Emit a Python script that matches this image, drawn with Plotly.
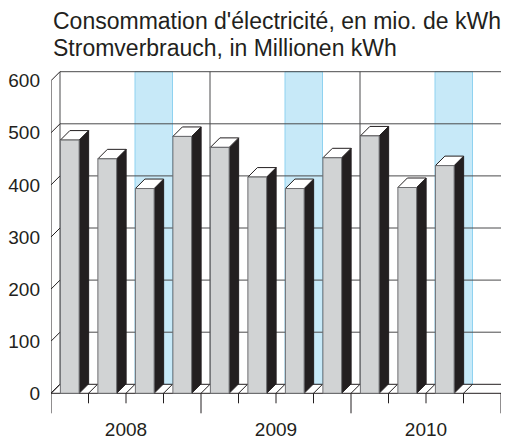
import plotly.graph_objects as go

# ---------------- data ----------------
TITLE_FR = "Consommation d'électricité, en mio. de kWh"
TITLE_DE = "Stromverbrauch, in Millionen kWh"
YEARS = ["2008", "2009", "2010"]
QUARTERS_PER_YEAR = 4
CONSUMPTION = [486, 450, 393, 493, 472, 415, 393, 452, 494, 395, 437]
HIGHLIGHT_QUARTER = 3          # shaded third quarter in each year
Y_TICKS = [0, 100, 200, 300, 400, 500, 600]

# ---------------- style / geometry (page pixels) ----------------
PAGE_OFFSET = 8           # default body margin of the html page
PAGE_W, PAGE_H = 509, 441
PLOT_LEFT, PLOT_RIGHT, PLOT_TOP, PLOT_BOTTOM = 51, 509, 65, 414
W = PAGE_W - PAGE_OFFSET
H = PAGE_H - PAGE_OFFSET
ML = PLOT_LEFT - PAGE_OFFSET
MT = PLOT_TOP - PAGE_OFFSET
MR = W - (PLOT_RIGHT - PAGE_OFFSET)
MB = H - (PLOT_BOTTOM - PAGE_OFFSET)

SLOT_PX = 37.5            # pixels per quarter slot
UNIT_PX = 0.521           # pixels per million kWh
ZERO_ABOVE_BOTTOM_PX = 20.7
WALL_DEPTH_PX = 9.0
BAR_DEPTH_PX = 9.5
BAR_WIDTH = 0.5           # fraction of slot
SHORT_TICK_PX, LONG_TICK_PX = 10, 20

DARK = "#231f20"
GRID = "#4a4a4c"
FRONT = "#d1d3d4"
FRONT_EDGE = "#6d6e71"
BAND = "#c7e9f8"
BAND_EDGE = "#8fd2f0"
FONT = "Liberation Sans, Arial, sans-serif"

plot_w = W - ML - MR
plot_h = H - MT - MB
n_slots = len(YEARS) * QUARTERS_PER_YEAR
x_range = [0, plot_w / SLOT_PX]
y_min = -ZERO_ABOVE_BOTTOM_PX / UNIT_PX
y_range = [y_min, y_min + plot_h / UNIT_PX]

wdx = WALL_DEPTH_PX / SLOT_PX
wdy = WALL_DEPTH_PX / UNIT_PX
bdx = BAR_DEPTH_PX / SLOT_PX
bdy = BAR_DEPTH_PX / UNIT_PX
ymax_tick = Y_TICKS[-1]

fig = go.Figure()


def poly(xs, ys, fill, line, width=1.0):
    fig.add_trace(go.Scatter(
        x=list(xs) + [xs[0]], y=list(ys) + [ys[0]], mode="lines",
        fill="toself", fillcolor=fill, line=dict(color=line, width=width),
        hoverinfo="skip", showlegend=False))


def segs(pairs, color, width=1.0):
    xs, ys = [], []
    for (x0, y0), (x1, y1) in pairs:
        xs += [x0, x1, None]
        ys += [y0, y1, None]
    fig.add_trace(go.Scatter(x=xs, y=ys, mode="lines",
                             line=dict(color=color, width=width),
                             hoverinfo="skip", showlegend=False))


# highlighted quarter bands on the back wall
for yi in range(len(YEARS)):
    s = yi * QUARTERS_PER_YEAR + (HIGHLIGHT_QUARTER - 1)
    poly([s + wdx, s + 1 + wdx, s + 1 + wdx, s + wdx],
         [wdy, wdy, ymax_tick + wdy, ymax_tick + wdy], BAND, BAND_EDGE, 1)

# back-wall horizontal gridlines
segs([((wdx, v + wdy), (x_range[1] + 1, v + wdy)) for v in Y_TICKS[1:]], GRID, 1)
# back-wall vertical lines (left edge and year boundaries)
segs([((k * QUARTERS_PER_YEAR + wdx, wdy), (k * QUARTERS_PER_YEAR + wdx, ymax_tick + wdy))
      for k in range(len(YEARS))], GRID, 1)
# left wall: front edge + depth diagonals
segs([((0, 0), (0, ymax_tick))] + [((0, v), (wdx, v + wdy)) for v in Y_TICKS], DARK, 1)
# floor
poly([0, n_slots, n_slots + wdx, wdx], [0, 0, wdy, wdy], "white", DARK, 1)
segs([((i, 0), (i + wdx, wdy)) for i in range(n_slots + 1)], DARK, 1)
# ticks under floor
segs([((i, 0), (i, -(LONG_TICK_PX if i % QUARTERS_PER_YEAR == 0 else SHORT_TICK_PX) / UNIT_PX))
      for i in range(n_slots + 1)], DARK, 1)

# 3D bars
for i, v in enumerate(CONSUMPTION):
    x0 = i + (1 - BAR_WIDTH) / 2
    x1 = x0 + BAR_WIDTH
    # side
    poly([x1, x1 + bdx, x1 + bdx, x1], [0, bdy, v + bdy, v], DARK, DARK, 1)
    # top
    poly([x0, x1, x1 + bdx, x0 + bdx], [v, v, v + bdy, v + bdy], "white", DARK, 1)
    # front
    poly([x0, x1, x1, x0], [0, 0, v, v], FRONT, FRONT_EDGE, 1)

year_centers = [k * QUARTERS_PER_YEAR + QUARTERS_PER_YEAR / 2 for k in range(len(YEARS))]

fig.update_xaxes(range=x_range, showgrid=False, zeroline=False, showline=False,
                 automargin=False,
                 tickvals=year_centers, ticktext=YEARS, ticks="",
                 tickfont=dict(size=19, color=DARK, family=FONT), ticklabelstandoff=2)
fig.update_yaxes(range=y_range, showgrid=False, zeroline=False, showline=False,
                 automargin=False,
                 tickvals=Y_TICKS, ticks="",
                 tickfont=dict(size=19, color=DARK, family=FONT), ticklabelstandoff=10)


def paper_y(page_px):
    return (PLOT_BOTTOM - page_px) / plot_h


def paper_x(page_px):
    return (page_px - PLOT_LEFT) / plot_w


for text, ypx in [(TITLE_FR, 21.5), (TITLE_DE, 48.5)]:
    fig.add_annotation(text=text, xref="paper", yref="paper", x=paper_x(51),
                       y=paper_y(ypx), xanchor="left", yanchor="middle", showarrow=False,
                       font=dict(size=23, color=DARK, family=FONT))

fig.update_layout(width=W, height=H, autosize=False,
                  margin=dict(l=ML, r=MR, t=MT, b=MB, autoexpand=False),
                  plot_bgcolor="white", paper_bgcolor="white",
                  showlegend=False, hovermode=False)

fig.write_html("out.html")
